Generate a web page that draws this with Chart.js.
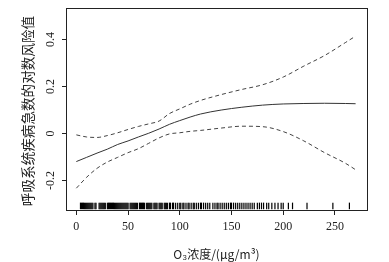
<!DOCTYPE html>
<html>
<head>
<meta charset="utf-8">
<script src="https://cdn.jsdelivr.net/npm/chart.js@4"></script>
<style>
  html, body { margin: 0; padding: 0; background: #fff; }
</style>
</head>
<body>
<canvas id="chart" width="389" height="262"></canvas>
<script>
// O3 concentration grid and the fitted log-RR with its confidence band
const o3 = [0, 10, 20, 30, 40, 50, 60, 70, 80, 90, 100, 110, 120, 140, 160, 180, 200, 220, 240, 260, 270];
const fit = [-0.123, -0.105, -0.087, -0.07, -0.05, -0.035, -0.018, -0.002, 0.016, 0.036, 0.052, 0.067, 0.08, 0.097, 0.109, 0.118, 0.123, 0.125, 0.126, 0.125, 0.124];
const upper = [-0.009, -0.018, -0.02, -0.012, 0.0, 0.014, 0.027, 0.038, 0.05, 0.082, 0.102, 0.122, 0.138, 0.163, 0.185, 0.205, 0.238, 0.285, 0.33, 0.385, 0.413];
const lower = [-0.237, -0.19, -0.152, -0.125, -0.105, -0.085, -0.068, -0.045, -0.022, -0.005, 0.0, 0.006, 0.01, 0.02, 0.028, 0.026, 0.005, -0.035, -0.085, -0.13, -0.158];

// observed O3 values (rug)
const rug = [4,5,6,7,8,9,10,11,12,13,14,15,16,18,19,22,23,24,25,26,27,28,30,31,32,33,34,35,36,37,38,39,40,41,42,43,44,45,46,47,48,49,50,52,53,54,55,56,57,58,59,61,62,63,64,65,66,68,69,70,71,72,73,75,76,77,78,80,81,82,83,85,86,87,88,90,91,93,94,96,98,100,101,103,104,106,108,109,111,113,114,116,118,120,121,123,125,127,129,132,134,136,137,139,141,143,145,147,149,150,152,154,156,158,160,162,164,166,168,170,172,175,177,179,181,184,186,189,192,195,198,200,205,209,223,248,264];

const xTicks = [0, 50, 100, 150, 200, 250];
const yTicks = [-0.2, 0, 0.2, 0.4];
const yTickLabels = ['-0.2', '0', '0.2', '0.4'];
const yTitle = '呼吸系统疾病急数的对数风险值';
const xTitle = 'O₃浓度/(μg/m³)';

const numFont = '"Liberation Serif", "DejaVu Serif", serif';
const cjkFont = '"Noto Sans CJK SC", sans-serif';

const toPts = ys => o3.map((x, i) => ({x: x, y: ys[i]}));

// box, y axis ticks/labels, y title (rotated like R)
const framePlugin = {
  id: 'frame',
  afterDraw(chart) {
    const ctx = chart.ctx;
    const a = chart.chartArea;
    const ys = chart.scales.y;
    ctx.save();
    ctx.strokeStyle = '#222';
    ctx.lineWidth = 1;
    ctx.strokeRect(a.left + 0.5, a.top + 0.5, a.right - a.left, a.bottom - a.top);
    ctx.fillStyle = '#222';
    ctx.font = '12px ' + numFont;
    ctx.textAlign = 'center';
    ctx.textBaseline = 'middle';
    yTicks.forEach((v, i) => {
      const py = Math.round(ys.getPixelForValue(v)) + 0.5;
      ctx.beginPath();
      ctx.moveTo(a.left - 4, py);
      ctx.lineTo(a.left, py);
      ctx.stroke();
      ctx.save();
      ctx.translate(a.left - 15, py);
      ctx.rotate(-Math.PI / 2);
      ctx.fillText(yTickLabels[i], 0, 0);
      ctx.restore();
    });
    ctx.save();
    ctx.font = '13.6px ' + cjkFont;
    ctx.translate(28, (a.top + a.bottom) / 2 + 2);
    ctx.rotate(-Math.PI / 2);
    ctx.fillText(yTitle, 0, 0);
    ctx.restore();
    ctx.restore();
  }
};

const ctx = document.getElementById('chart').getContext('2d');
const myChart = new Chart(ctx, {
  type: 'scatter',
  data: {
    datasets: [
      {
        label: 'fit',
        data: toPts(fit),
        showLine: true,
        borderColor: '#333',
        borderWidth: 1,
        pointRadius: 0,
        cubicInterpolationMode: 'monotone'
      },
      {
        label: 'upper',
        data: toPts(upper),
        showLine: true,
        borderColor: '#444',
        borderWidth: 1,
        borderDash: [4, 3],
        pointRadius: 0,
        cubicInterpolationMode: 'monotone'
      },
      {
        label: 'lower',
        data: toPts(lower),
        showLine: true,
        borderColor: '#444',
        borderWidth: 1,
        borderDash: [4, 3],
        pointRadius: 0,
        cubicInterpolationMode: 'monotone'
      },
      {
        label: 'rug',
        data: rug.map(v => ({x: v, y: -0.3126})),
        showLine: false,
        pointStyle: 'line',
        rotation: 90,
        pointRadius: 3.3,
        borderColor: '#000',
        borderWidth: 1.2
      }
    ]
  },
  options: {
    responsive: false,
    animation: false,
    devicePixelRatio: 1,
    layout: { padding: { left: 0, right: 22, top: 8, bottom: 0 } },
    plugins: {
      legend: { display: false },
      tooltip: { enabled: false }
    },
    scales: {
      x: {
        type: 'linear',
        min: -10,
        max: 281,
        afterBuildTicks: s => { s.ticks = xTicks.map(v => ({value: v})); },
        afterFit: s => { s.height = 52; },
        grid: { drawOnChartArea: false, drawTicks: true, tickLength: 5, color: '#222' },
        border: { display: false },
        ticks: {
          color: '#222',
          font: { family: numFont, size: 12 },
          padding: 5,
          maxRotation: 0,
          callback: v => String(v)
        },
        title: {
          display: true,
          text: xTitle,
          color: '#222',
          font: { family: cjkFont, size: 12 },
          padding: { top: 2, bottom: 0 }
        }
      },
      y: {
        type: 'linear',
        min: -0.33,
        max: 0.533,
        afterBuildTicks: s => { s.ticks = yTicks.map(v => ({value: v})); },
        afterFit: s => { s.width = 66; },
        grid: { display: false },
        border: { display: false },
        ticks: { display: false }
      }
    }
  },
  plugins: [framePlugin]
});
</script>
</body>
</html>
